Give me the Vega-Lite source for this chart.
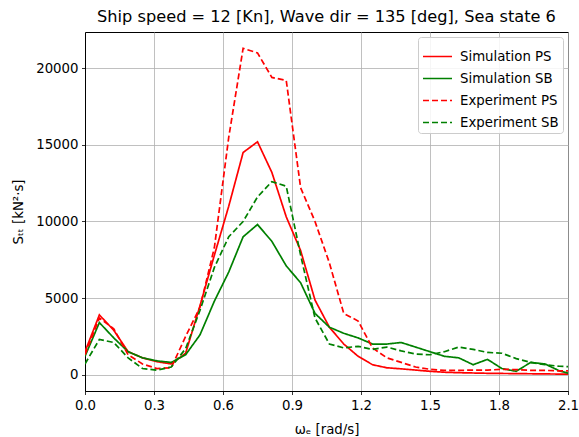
{
  "$schema": "https://vega.github.io/schema/vega-lite/v6.json",
  "width": 483,
  "height": 359,
  "autosize": {"type": "none"},
  "padding": {"left": 85, "top": 32, "right": 11, "bottom": 46},
  "background": "white",
  "config": {
    "font": "DejaVu Sans",
    "view": {"stroke": "black", "strokeWidth": 1},
    "axis": {
      "domainColor": "black", "domainWidth": 1,
      "tickColor": "black", "tickSize": 3.5, "tickWidth": 0.8,
      "labelColor": "black", "labelFontSize": 13.3, "labelPadding": 3.5, "labelFlush": false, "labelOverlap": false,
      "titleColor": "black", "titleFontSize": 13.3, "titleFontWeight": "normal",
      "gridColor": "#b0b0b0", "gridWidth": 0.8
    },
    "title": {"fontSize": 16.2, "fontWeight": "normal", "color": "black"}
  },
  "title": {"text": "Ship speed = 12 [Kn], Wave dir = 135 [deg], Sea state 6", "anchor": "middle", "offset": 7},
  "datasets": {
    "d": [
      {"w": 0, "SimPS": 1500, "SimSB": 1200, "ExpPS": 1300, "ExpSB": 700},
      {"w": 0.0625, "SimPS": 3900, "SimSB": 3400, "ExpPS": 3700, "ExpSB": 2300},
      {"w": 0.125, "SimPS": 2900, "SimSB": 2400, "ExpPS": 3000, "ExpSB": 2100},
      {"w": 0.1875, "SimPS": 1500, "SimSB": 1500, "ExpPS": 1300, "ExpSB": 1100},
      {"w": 0.25, "SimPS": 1100, "SimSB": 1100, "ExpPS": 700, "ExpSB": 400},
      {"w": 0.3125, "SimPS": 850, "SimSB": 900, "ExpPS": 400, "ExpSB": 300},
      {"w": 0.375, "SimPS": 700, "SimSB": 800, "ExpPS": 450, "ExpSB": 500},
      {"w": 0.4375, "SimPS": 1400, "SimSB": 1300, "ExpPS": 2500, "ExpSB": 1700},
      {"w": 0.5, "SimPS": 4500, "SimSB": 2600, "ExpPS": 4400, "ExpSB": 4200},
      {"w": 0.5625, "SimPS": 7800, "SimSB": 4800, "ExpPS": 8300, "ExpSB": 7000},
      {"w": 0.625, "SimPS": 11000, "SimSB": 6700, "ExpPS": 15500, "ExpSB": 9000},
      {"w": 0.6875, "SimPS": 14500, "SimSB": 9000, "ExpPS": 21300, "ExpSB": 10000},
      {"w": 0.75, "SimPS": 15200, "SimSB": 9800, "ExpPS": 21000, "ExpSB": 11600},
      {"w": 0.8125, "SimPS": 13200, "SimSB": 8700, "ExpPS": 19400, "ExpSB": 12600},
      {"w": 0.875, "SimPS": 10300, "SimSB": 7100, "ExpPS": 19200, "ExpSB": 12300},
      {"w": 0.9375, "SimPS": 8100, "SimSB": 6000, "ExpPS": 12200, "ExpSB": 7800},
      {"w": 1.0, "SimPS": 4870, "SimSB": 4000, "ExpPS": 10000, "ExpSB": 3700},
      {"w": 1.0625, "SimPS": 3100, "SimSB": 3100, "ExpPS": 7300, "ExpSB": 2000},
      {"w": 1.125, "SimPS": 2000, "SimSB": 2700, "ExpPS": 4000, "ExpSB": 1750},
      {"w": 1.1875, "SimPS": 1200, "SimSB": 2400, "ExpPS": 3500, "ExpSB": 1850},
      {"w": 1.25, "SimPS": 650, "SimSB": 2000, "ExpPS": 1750, "ExpSB": 1650},
      {"w": 1.3125, "SimPS": 450, "SimSB": 2000, "ExpPS": 1100, "ExpSB": 1800},
      {"w": 1.375, "SimPS": 380, "SimSB": 2100, "ExpPS": 800, "ExpSB": 1550},
      {"w": 1.4375, "SimPS": 300, "SimSB": 1800, "ExpPS": 500, "ExpSB": 1350},
      {"w": 1.5, "SimPS": 220, "SimSB": 1500, "ExpPS": 350, "ExpSB": 1300},
      {"w": 1.5625, "SimPS": 160, "SimSB": 1200, "ExpPS": 280, "ExpSB": 1500},
      {"w": 1.625, "SimPS": 130, "SimSB": 1100, "ExpPS": 280, "ExpSB": 1800},
      {"w": 1.6875, "SimPS": 110, "SimSB": 650, "ExpPS": 300, "ExpSB": 1650},
      {"w": 1.75, "SimPS": 90, "SimSB": 1000, "ExpPS": 300, "ExpSB": 1450},
      {"w": 1.8125, "SimPS": 80, "SimSB": 400, "ExpPS": 350, "ExpSB": 1400},
      {"w": 1.875, "SimPS": 70, "SimSB": 220, "ExpPS": 330, "ExpSB": 1050},
      {"w": 1.9375, "SimPS": 60, "SimSB": 800, "ExpPS": 280, "ExpSB": 800},
      {"w": 2.0, "SimPS": 50, "SimSB": 700, "ExpPS": 280, "ExpSB": 650},
      {"w": 2.0625, "SimPS": 40, "SimSB": 250, "ExpPS": 250, "ExpSB": 550},
      {"w": 2.125, "SimPS": 30, "SimSB": 0, "ExpPS": 250, "ExpSB": 500}
    ]
  },
  "data": {"name": "d"},
  "transform": [
    {"fold": ["SimPS", "SimSB", "ExpPS", "ExpSB"], "as": ["key", "v"]},
    {"lookup": "key", "from": {"data": {"values": [
      {"key": "SimPS", "series": "Simulation PS", "ord": 0},
      {"key": "SimSB", "series": "Simulation SB", "ord": 1},
      {"key": "ExpPS", "series": "Experiment PS", "ord": 2},
      {"key": "ExpSB", "series": "Experiment SB", "ord": 3}
    ]}, "key": "key", "fields": ["series", "ord"]}}
  ],
  "mark": {"type": "line", "clip": true, "strokeWidth": 1.7},
  "encoding": {
    "x": {"field": "w", "type": "quantitative",
      "scale": {"domain": [0, 2.1], "nice": false, "zero": false},
      "axis": {"values": [0, 0.3, 0.6, 0.9, 1.2, 1.5, 1.8, 2.1], "format": ".1f", "title": "ωₑ [rad/s]", "titlePadding": 11}},
    "y": {"field": "v", "type": "quantitative",
      "scale": {"domain": [-1065, 22365], "nice": false, "zero": false},
      "axis": {"values": [0, 5000, 10000, 15000, 20000], "format": "d", "title": "Sₜₜ [kN²·s]", "titlePadding": 10}},
    "color": {"field": "series", "type": "nominal",
      "scale": {"domain": ["Simulation PS", "Simulation SB", "Experiment PS", "Experiment SB"], "range": ["#ff0000", "#008000", "#ff0000", "#008000"]},
      "legend": {"title": null, "orient": "top-right", "offset": 5, "fillColor": "rgba(255,255,255,0.85)", "strokeColor": "#cccccc", "cornerRadius": 3, "padding": 4, "labelFontSize": 13.3, "labelColor": "black", "symbolType": "stroke", "symbolSize": 841, "symbolStrokeWidth": 1.7, "rowPadding": -10, "labelOffset": 7}},
    "strokeDash": {"field": "series", "type": "nominal",
      "scale": {"domain": ["Simulation PS", "Simulation SB", "Experiment PS", "Experiment SB"], "range": [[1, 0], [1, 0], [6, 3], [6, 3]]},
      "legend": {"title": null, "orient": "top-right", "offset": 5, "fillColor": "rgba(255,255,255,0.85)", "strokeColor": "#cccccc", "cornerRadius": 3, "padding": 4, "labelFontSize": 13.3, "labelColor": "black", "symbolType": "stroke", "symbolSize": 841, "symbolStrokeWidth": 1.7, "rowPadding": -10, "labelOffset": 7}},
    "order": {"field": "ord"}
  }
}
